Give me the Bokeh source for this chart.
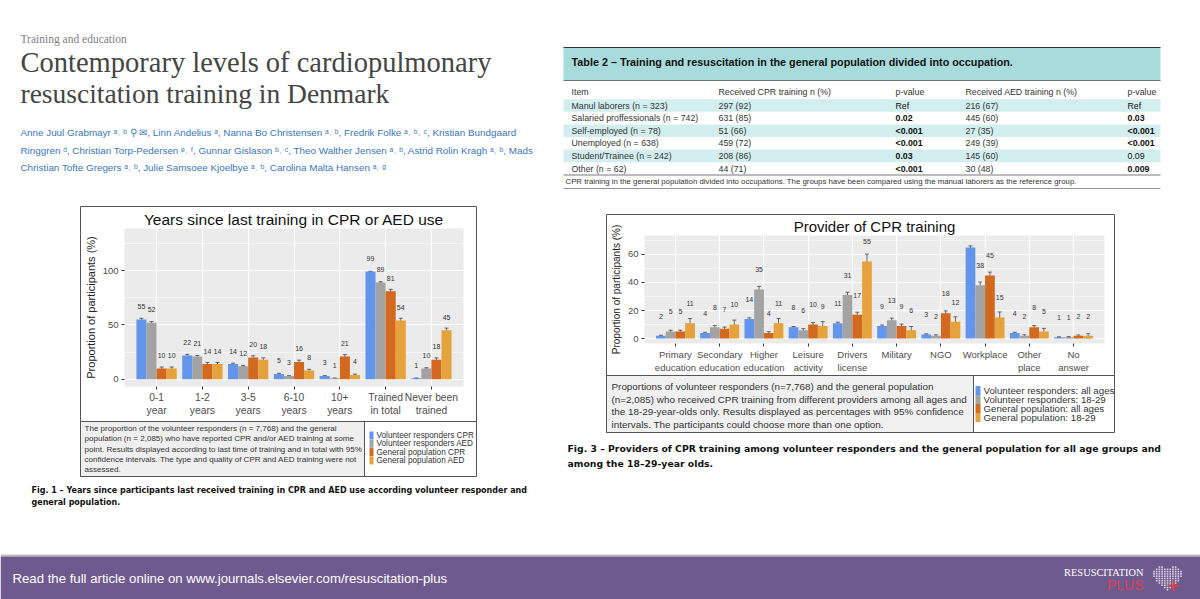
import numpy as np
from bokeh.plotting import figure
from bokeh.models import ColumnDataSource, Range1d, FactorRange, FixedTicker, GridBox, Whisker, TeeHead
from bokeh.transform import dodge
from bokeh.core.properties import value
from bokeh.embed import file_html
from bokeh.resources import INLINE

# ---------------- data ----------------
series_colors = ["#6495ED", "#A3A3A3", "#D2691E", "#E6A23C"]

f1_cats = ["0-1\nyear", "1-2\nyears", "3-5\nyears", "6-10\nyears", "10+\nyears",
           "Trained\nin total", "Never been\ntrained"]
f1_vr_cpr = [55, 22, 14, 5, 3, 99, 1]
f1_vr_aed = [52, 21, 12, 3, 1, 89, 10]
f1_gp_cpr = [10, 14, 20, 16, 21, 81, 18]
f1_gp_aed = [10, 14, 18, 8, 4, 54, 45]
f1_vr_cpr_ci = [1.1, 0.9, 0.8, 0.5, 0.4, 0.3, 0.2]
f1_vr_aed_ci = [1.1, 0.9, 0.7, 0.4, 0.2, 0.7, 0.7]
f1_gp_cpr_ci = [1.3, 1.5, 1.7, 1.6, 1.7, 1.7, 1.7]
f1_gp_aed_ci = [1.3, 1.5, 1.7, 1.2, 0.8, 2.1, 2.1]
f1_legend = ["Volunteer responders CPR", "Volunteer responders AED",
             "General population CPR", "General population AED"]

f3_cats = ["Primary\neducation", "Secondary\neducation", "Higher\neducation", "Leisure\nactivity",
           "Drivers\nlicense", "Military", "NGO", "Workplace", "Other\nplace", "No\nanswer"]
f3_vr_all = [2, 4, 14, 8, 11, 9, 3, 65, 4, 1]
f3_vr_young = [5, 8, 35, 6, 31, 13, 2, 38, 2, 1]
f3_gp_all = [5, 7, 4, 10, 17, 9, 18, 45, 8, 2]
f3_gp_young = [11, 10, 11, 9, 55, 6, 12, 15, 5, 2]
f3_vr_all_ci = [0.4, 0.5, 0.8, 0.6, 0.7, 0.7, 0.4, 1.1, 0.5, 0.3]
f3_vr_young_ci = [1.0, 1.3, 2.2, 1.1, 2.1, 1.6, 0.7, 2.3, 0.7, 0.4]
f3_gp_all_ci = [1.0, 1.2, 0.9, 1.4, 1.8, 1.3, 1.8, 2.4, 1.3, 0.6]
f3_gp_young_ci = [3.3, 3.2, 3.3, 3.1, 5.2, 2.6, 3.5, 4.0, 2.3, 1.5]
f3_legend = ["Volunteer responders: all ages", "Volunteer responders: 18-29",
             "General population: all ages", "General population: 18-29"]

tbl_header = ["Item", "Received CPR training n (%)", "p-value", "Received AED training n (%)", "p-value"]
tbl_item = ["Manul laborers (n = 323)", "Salaried proffessionals (n = 742)", "Self-employed (n = 78)",
            "Unemployed (n = 638)", "Student/Trainee (n = 242)", "Other (n = 62)"]
tbl_cpr = ["297 (92)", "631 (85)", "51 (66)", "459 (72)", "208 (86)", "44 (71)"]
tbl_p_cpr = ["Ref", "0.02", "<0.001", "<0.001", "0.03", "<0.001"]
tbl_aed = ["216 (67)", "445 (60)", "27 (35)", "249 (39)", "145 (60)", "30 (48)"]
tbl_p_aed = ["Ref", "0.03", "<0.001", "<0.001", "0.09", "0.009"]
tbl_p_cpr_bold = [False, True, True, True, True, True]
tbl_p_aed_bold = [False, True, True, True, False, True]

SANS = "Liberation Sans"
SERIF = "Liberation Serif"

# ---------------- background canvas (page pixel coordinates) ----------------
W, H = 1200, 599
bg = figure(width=W, height=H, x_range=Range1d(0, W), y_range=Range1d(H, 0),
            output_backend="svg", toolbar_location=None, min_border=0,
            x_axis_location=None, y_axis_location=None)
bg.grid.visible = False
bg.outline_line_color = None
bg.background_fill_color = "white"
bg.border_fill_color = "white"


def txt(x, y, s, size, color="#333333", font=SANS, style="normal",
        align="left", baseline="middle", angle=0.0):
    bg.text(x=[x], y=[y], text=[s], text_font_size=f"{size}px", text_color=color,
            text_font=value(font), text_font_style=style, text_align=align,
            text_baseline=baseline, angle=angle)


def box(l, r, t, b, fill=None, line="#555555", lw=1.0):
    bg.quad(left=[l], right=[r], top=[t], bottom=[b], fill_color=fill,
            line_color=line, line_width=lw)


def hline(x0, x1, y, color="#555555", lw=1.0):
    bg.segment(x0=[x0], x1=[x1], y0=[y], y1=[y], line_color=color, line_width=lw)


def vline(x, y0, y1, color="#555555", lw=1.0):
    bg.segment(x0=[x], x1=[x], y0=[y0], y1=[y1], line_color=color, line_width=lw)


# header
txt(20, 38, "Training and education", 11.5, "#808080", SERIF)
txt(20, 62, "Contemporary levels of cardiopulmonary", 28.5, "#454545", SERIF)
txt(20, 93, "resuscitation training in Denmark", 27.5, "#454545", SERIF)
authors = [
    "Anne Juul Grabmayr ᵃ˒ ᵇ ⚲ ✉, Linn Andelius ᵃ, Nanna Bo Christensen ᵃ˒ ᵇ, Fredrik Folke ᵃ˒ ᵇ˒ ᶜ, Kristian Bundgaard",
    "Ringgren ᵈ, Christian Torp-Pedersen ᵉ˒ ᶠ, Gunnar Gislason ᵇ˒ ᶜ, Theo Walther Jensen ᵃ˒ ᵇ, Astrid Rolin Kragh ᵃ˒ ᵇ, Mads",
    "Christian Tofte Gregers ᵃ˒ ᵇ, Julie Samsoee Kjoelbye ᵃ˒ ᵇ, Carolina Malta Hansen ᵃ˒ ᵍ",
]
for i, a in enumerate(authors):
    txt(20, 132 + 17.5 * i, a, 9.85, "#3A76BA", SANS)

# Fig 1 box
box(80, 476, 206, 476, fill="white")
box(80, 364, 421, 476, fill="#EFEFEF")
hline(80, 476, 421)
vline(364, 421, 476)
f1_caption = [
    "The proportion of the volunteer responders (n = 7,768) and the general",
    "population (n = 2,085) who have reported CPR and/or AED training at some",
    "point. Results displayed according to last time of training and in total with 95%",
    "confidence intervals. The type and quality of CPR and AED training were not",
    "assessed.",
]
for i, s in enumerate(f1_caption):
    txt(84, 428 + 10.3 * i, s, 8.05, "#333333", SANS)
for i, (s, c) in enumerate(zip(f1_legend, series_colors)):
    yy = 435 + 8.3 * i
    bg.quad(left=[369], right=[373], top=[yy - 4], bottom=[yy + 4], fill_color=c, line_color=None)
    txt(376, yy, s, 8.2, "#333333", SANS)
txt(31, 490, "Fig. 1 – Years since participants last received training in CPR and AED use according volunteer responder and",
    8.0, "#111111", "DejaVu Sans", "bold")
txt(31, 502, "general population.", 8.0, "#111111", "DejaVu Sans", "bold")

# Table 2
bg.quad(left=[563], right=[1160], top=[47], bottom=[80], fill_color="#A8DCDC", line_color=None)
hline(563, 1160, 47, "#333333", 1.2)
hline(563, 1160, 80, "#555555", 0.8)
txt(571, 61, "Table 2 – Training and resuscitation in the general population divided into occupation.",
    10.8, "#111111", SANS, "bold")
col_x = [571, 718, 895, 965, 1127]
for x, s in zip(col_x, tbl_header):
    txt(x, 91, s, 8.8, "#333333", SANS)
for i in range(len(tbl_item)):
    yy = 105 + 12.6 * i
    if i % 2 == 0:
        bg.quad(left=[563], right=[1160], top=[yy - 6.3], bottom=[yy + 6.3], fill_color="#D3EEEE", line_color=None)
    txt(col_x[0], yy, tbl_item[i], 8.8, "#333333", SANS)
    txt(col_x[1], yy, tbl_cpr[i], 8.8, "#333333", SANS)
    txt(col_x[2], yy, tbl_p_cpr[i], 8.8, "#111111", SANS, "bold" if tbl_p_cpr_bold[i] else "normal")
    txt(col_x[3], yy, tbl_aed[i], 8.8, "#333333", SANS)
    txt(col_x[4], yy, tbl_p_aed[i], 8.8, "#111111", SANS, "bold" if tbl_p_aed_bold[i] else "normal")
hline(563, 1160, 174.5, "#555555", 0.8)
txt(565, 181, "CPR training in the general population divided into occupations. The groups have been compared using the manual laborers as the reference group.",
    7.8, "#333333", SANS)
hline(563, 1160, 188, "#777777", 0.8)

# Fig 3 box
box(606, 1114, 214, 432, fill="white")
box(606, 973, 375, 432, fill="#F0F0F0")
hline(606, 1114, 375)
vline(973, 375, 432)
f3_caption = [
    "Proportions of volunteer responders (n=7,768) and the general population",
    "(n=2,085) who received CPR training from different providers among all ages and",
    "the 18-29-year-olds only. Results displayed as percentages with 95% confidence",
    "intervals. The participants could choose more than one option.",
]
for i, s in enumerate(f3_caption):
    txt(611, 386 + 12.7 * i, s, 9.9, "#333333", SANS)
for i, (s, c) in enumerate(zip(f3_legend, series_colors)):
    yy = 390 + 9 * i
    bg.quad(left=[975], right=[980], top=[yy - 4.5], bottom=[yy + 4.5], fill_color=c, line_color=None)
    txt(983, yy, s, 9.7, "#333333", SANS)
txt(567, 448, "Fig. 3 – Providers of CPR training among volunteer responders and the general population for all age groups and",
    9.3, "#111111", "DejaVu Sans", "bold")
txt(567, 463, "among the 18–29-year olds.", 9.3, "#111111", "DejaVu Sans", "bold")

# banner
bg.quad(left=[0], right=[1200], top=[554], bottom=[556], fill_color="#BDBDBD", line_color=None)
bg.quad(left=[0], right=[1200], top=[556], bottom=[599], fill_color="#6F5A8F", line_color=None)
txt(12, 578, "Read the full article online on www.journals.elsevier.com/resuscitation-plus", 13.2,
    "white", SANS)
txt(1143, 572, "RESUSCITATION", 10.4, "white", SERIF, align="right")
txt(1143, 584, "PLUS", 14, "#D9434E", SANS, align="right")
gx, gy = np.meshgrid(np.linspace(-1.3, 1.3, 13), np.linspace(-1.2, 1.4, 13))
inside = (gx ** 2 + gy ** 2 - 1) ** 3 - gx ** 2 * gy ** 3 <= 0
hx = 1167 + gx[inside] * 12.5
hy = 579 - gy[inside] * 10.5
bg.rect(x=hx, y=hy, width=1.6, height=1.6, fill_color="#D8D0E4", line_color=None)
bg.quad(left=[1172], right=[1174], top=[579], bottom=[592], fill_color="#D9434E", line_color=None)
bg.quad(left=[1167], right=[1179], top=[584.5], bottom=[586.5], fill_color="#D9434E", line_color=None)


# ---------------- bar charts ----------------
def style_chart(p, title, tick_size, xlab_size, label_size, title_size):
    p.title.text = title
    p.title.align = "center"
    p.title.text_font = SANS
    p.title.text_font_size = f"{title_size}px"
    p.title.text_font_style = "normal"
    p.title.text_color = "#111111"
    p.title.standoff = 1
    p.background_fill_color = "#EBEBEB"
    p.border_fill_color = "white"
    p.outline_line_color = None
    p.xgrid.grid_line_color = "white"
    p.xgrid.grid_line_width = 1.1
    p.ygrid.grid_line_color = "white"
    p.ygrid.grid_line_width = 1.1
    p.ygrid.minor_grid_line_color = "white"
    p.ygrid.minor_grid_line_width = 0.5
    for ax in (p.xaxis, p.yaxis):
        ax.axis_line_color = None
        ax.major_tick_line_color = "#333333"
        ax.major_tick_in = 0
        ax.major_tick_out = 3
        ax.minor_tick_line_color = None
        ax.major_label_text_font = SANS
        ax.major_label_text_color = "#4D4D4D"
        ax.major_label_standoff = 2
    p.yaxis.major_label_text_font_size = f"{tick_size}px"
    p.xaxis.major_label_text_font_size = f"{xlab_size}px"
    p.yaxis.axis_label = "Proportion of participants (%)"
    p.yaxis.axis_label_text_font = SANS
    p.yaxis.axis_label_text_font_size = f"{label_size}px"
    p.yaxis.axis_label_text_font_style = "normal"
    p.yaxis.axis_label_text_color = "#222222"
    p.yaxis.axis_label_standoff = 3


def add_bars(p, cats, vals, cis, offset_lab, lab_size):
    data = {"cat": cats}
    offs = [-0.33, -0.11, 0.11, 0.33]
    for k, (v, ci) in enumerate(zip(vals, cis)):
        data[f"v{k}"] = v
        data[f"u{k}"] = [a + b for a, b in zip(v, ci)]
        data[f"l{k}"] = [a - b for a, b in zip(v, ci)]
        data[f"ly{k}"] = [a + offset_lab for a in v]
        data[f"t{k}"] = [str(a) for a in v]
    src = ColumnDataSource(data)
    for k, off in enumerate(offs):
        xs = dodge("cat", off, range=p.x_range)
        p.vbar(x=xs, top=f"v{k}", width=0.22, source=src, fill_color=series_colors[k], line_color=None)
        w = Whisker(source=src, base=xs, upper=f"u{k}", lower=f"l{k}", line_color="#333333",
                    line_width=0.7,
                    upper_head=TeeHead(size=4, line_color="#333333", line_width=0.7),
                    lower_head=TeeHead(size=4, line_color="#333333", line_width=0.7))
        p.add_layout(w)
        p.text(x=xs, y=f"ly{k}", text=f"t{k}", source=src, text_align="center", text_baseline="middle",
               text_font_size=f"{lab_size}px", text_color="#333333", text_font=value(SANS))


f1 = figure(width=394, height=214,
            x_range=FactorRange(factors=f1_cats, range_padding=0.2, range_padding_units="absolute"),
            y_range=Range1d(-6.6, 138.6), output_backend="svg", toolbar_location=None,
            min_border_left=42, min_border_right=12, min_border_top=21, min_border_bottom=35)
style_chart(f1, "Years since last training in CPR or AED use", 9.5, 10.3, 11, 15.5)
f1.yaxis.ticker = FixedTicker(ticks=[0, 50, 100], minor_ticks=[25, 75, 125])
add_bars(f1, f1_cats, [f1_vr_cpr, f1_vr_aed, f1_gp_cpr, f1_gp_aed],
         [f1_vr_cpr_ci, f1_vr_aed_ci, f1_gp_cpr_ci, f1_gp_aed_ci], 12, 7)

f3 = figure(width=506, height=160,
            x_range=FactorRange(factors=f3_cats, range_padding=0.2, range_padding_units="absolute"),
            y_range=Range1d(-3.5, 73.5), output_backend="svg", toolbar_location=None,
            min_border_left=30, min_border_right=9, min_border_top=19, min_border_bottom=29)
style_chart(f3, "Provider of CPR training", 9.5, 9.5, 10, 15)
f3.yaxis.ticker = FixedTicker(ticks=[0, 20, 40, 60], minor_ticks=[10, 30, 50, 70])
add_bars(f3, f3_cats, [f3_vr_all, f3_vr_young, f3_gp_all, f3_gp_young],
         [f3_vr_all_ci, f3_vr_young_ci, f3_gp_all_ci, f3_gp_young_ci], 14, 7)

grid = GridBox(children=[(bg, 0, 0, 5, 5), (f1, 1, 1, 3, 1), (f3, 2, 3, 1, 1)],
               rows=["207px", "8px", "160px", "46px", "178px"],
               cols=["81px", "394px", "132px", "506px", "87px"])

open("out.html", "w").write(file_html(grid, INLINE))
